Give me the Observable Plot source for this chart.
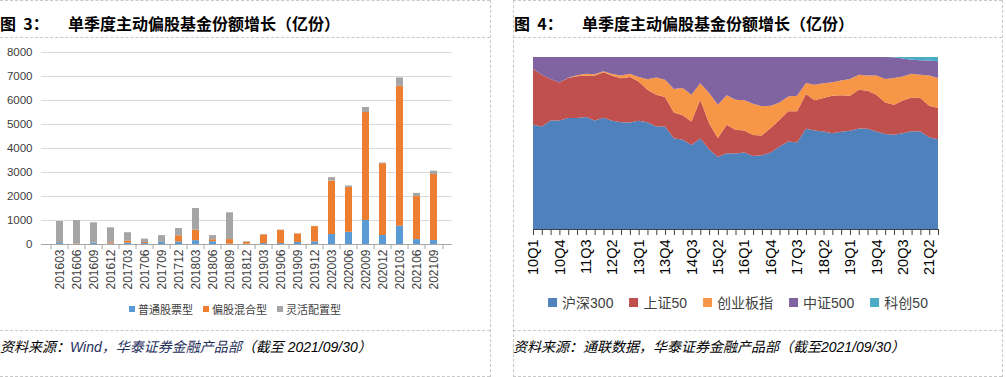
<!DOCTYPE html>
<html><head><meta charset="utf-8">
<script src="https://cdn.jsdelivr.net/npm/d3@7"></script>
<script src="https://cdn.jsdelivr.net/npm/@observablehq/plot@0.6"></script>
<style>
body{margin:0;width:1006px;height:377px;position:relative;overflow:hidden;background:#fff;font-family:"Liberation Sans","Noto Sans CJK SC",sans-serif;}
.abs{position:absolute;}
.hd{border-top:1px dashed #C8C8C8;height:0;}
.vd{border-left:1px dashed #C8C8C8;width:0;}
.title{font-family:"Noto Sans CJK SC","Liberation Sans",sans-serif;font-weight:bold;font-size:16px;line-height:20px;top:13px;white-space:nowrap;color:#000;}
.title .fig{display:inline-block;width:68px;}
.cap{font-style:italic;font-size:14px;line-height:16px;top:339px;white-space:nowrap;color:#000;}
.legend{display:flex;align-items:center;white-space:nowrap;transform:translateX(-50%);}
.legend .it{display:flex;align-items:center;}
.legend .sw{display:inline-block;}
</style>
</head><body>
<div class="abs hd" style="left:0;top:0;width:490px"></div>
<div class="abs hd" style="left:513px;top:0;width:489px"></div>
<div class="abs hd" style="left:0;top:37px;width:490px"></div>
<div class="abs hd" style="left:513px;top:37px;width:489px"></div>
<div class="abs hd" style="left:0;top:330px;width:490px"></div>
<div class="abs hd" style="left:513px;top:330px;width:489px"></div>
<div class="abs hd" style="left:0;top:376px;width:490px"></div>
<div class="abs hd" style="left:513px;top:376px;width:489px"></div>
<div class="abs vd" style="left:490px;top:0;height:377px"></div>
<div class="abs vd" style="left:513px;top:0;height:377px"></div>
<div class="abs vd" style="left:1002px;top:0;height:377px"></div>

<div class="abs title" style="left:0"><span class="fig">图&nbsp;&nbsp;3：</span>单季度主动偏股基金份额增长（亿份）</div>
<div class="abs title" style="left:514px"><span class="fig">图&nbsp;&nbsp;4：</span>单季度主动偏股基金份额增长（亿份）</div>

<div id="c1" class="abs" style="left:0;top:40px"></div>
<div id="c2" class="abs" style="left:513px;top:40px"></div>
<div id="l1" class="abs legend" style="left:235px;top:301px;font-size:11px;color:#404040"></div>
<div id="l2" class="abs legend" style="left:738px;top:292px;font-size:14px;color:#404040"></div>

<div class="abs cap" style="left:0">资料来源：<span style="color:#1F2F5C">Wind，华泰证券金融产品部</span>（截至 2021/09/30）</div>
<div class="abs cap" style="left:513px">资料来源：通联数据，华泰证券金融产品部（截至2021/09/30）</div>

<script>
// ---- Figure 3 data (亿份) ----
const periods = ["201603","201606","201609","201612","201703","201706","201709","201712","201803","201806","201809","201812","201903","201906","201909","201912","202003","202006","202009","202012","202103","202106","202109"];
const stockFund = [40,10,55,25,55,40,80,105,160,115,15,10,40,40,85,110,415,510,1000,375,760,205,165];
const mixedFund = [0,20,0,50,95,40,0,260,440,85,190,80,360,550,355,635,2230,1870,4500,2990,5830,1790,2750];
const flexFund  = [918,970,850,620,340,145,290,300,900,170,1115,25,15,10,5,10,140,60,210,30,350,135,140];
const barSeries = ["普通股票型","偏股混合型","灵活配置型"];
const barColors = ["#5B9BD5","#ED7D31","#A5A5A5"];
const yTicks1 = [0,1000,2000,3000,4000,5000,6000,7000,8000];

// ---- Figure 4 data (占比 %) ----
const quarters = ["10Q1","10Q2","10Q3","10Q4","11Q1","11Q2","11Q3","11Q4","12Q1","12Q2","12Q3","12Q4","13Q1","13Q2","13Q3","13Q4","14Q1","14Q2","14Q3","14Q4","15Q1","15Q2","15Q3","15Q4","16Q1","16Q2","16Q3","16Q4","17Q1","17Q2","17Q3","17Q4","18Q1","18Q2","18Q3","18Q4","19Q1","19Q2","19Q3","19Q4","20Q1","20Q2","20Q3","20Q4","21Q1","21Q2","21Q3"];
const labelQuarters = ["10Q1","10Q4","11Q3","12Q2","13Q1","13Q4","14Q3","15Q2","16Q1","16Q4","17Q3","18Q2","19Q1","19Q4","20Q3","21Q2"];
const hs300 = [60.6,59.6,63.1,63.1,64.5,64.5,65.1,63.1,64.7,62.9,62.1,61.9,62.9,62.1,59.6,59.6,52.8,51.9,48.9,52.6,46.4,41.8,44.1,43.9,44.5,42.5,42.9,44.5,48.0,50.9,50.3,58.3,57.3,56.7,55.7,56.5,57.1,58.5,58.3,56.7,55.2,54.8,55.7,56.9,56.7,53.4,52.2];
const sz50  = [32.4,30.1,24.1,22.1,23.3,24.3,24.1,26.0,26.4,26.2,25.6,26.4,22.9,18.8,18.4,17.1,15.0,14.2,13.6,22.5,15.1,11.1,16.5,13.8,12.8,12.2,11.5,14.2,15.5,17.5,18.1,20.2,17.5,19.4,21.8,21.2,20.4,22.5,22.1,21.4,18.4,17.5,19.0,19.6,19.4,18.3,18.1];
const cyb   = [0,0,0,0,0.2,0.6,1.0,0.8,0.6,1.0,1.6,1.9,2.5,6.2,10.1,10.1,13.6,15.9,15.5,9.7,17.5,19.4,17.1,17.5,17.5,18.1,16.9,13.0,10.1,8.7,9.1,6.4,9.1,8.7,7.8,8.7,9.7,8.7,8.9,11.1,13.6,15.5,14.0,13.8,13.6,17.5,17.5];
const zz500 = [7.0,10.3,12.8,14.8,12.0,10.6,9.8,10.1,8.3,9.9,10.7,9.8,11.7,12.9,11.9,13.2,18.6,18.0,22.0,15.2,21.0,27.7,22.3,24.8,25.2,27.2,28.7,28.3,26.4,22.9,22.5,15.1,16.1,15.2,14.7,13.6,12.8,10.3,10.7,10.8,12.8,12.0,10.5,8.1,8.4,8.7,9.7];
const kc50  = [0,0,0,0,0,0,0,0,0,0,0,0,0,0,0,0,0,0,0,0,0,0,0,0,0,0,0,0,0,0,0,0,0,0,0,0,0,0,0,0,0,0.2,0.8,1.6,1.9,2.1,2.5];
const idxSeries = ["沪深300","上证50","创业板指","中证500","科创50"];
const idxColors = ["#4F81BD","#C0504D","#F79646","#8064A2","#4BACC6"];

// ---- build tables ----
const barVals = [stockFund, mixedFund, flexFund];
const barData = barSeries.flatMap((s, k) => periods.map((p, i) => ({p, s, v: barVals[k][i]})));
const idxVals = [hs300, sz50, cyb, zz500, kc50];
const areaData = idxSeries.flatMap((s, k) => quarters.map((q, i) => ({q, s, v: idxVals[k][i]})));

const font = '"Liberation Sans","Noto Sans CJK SC",sans-serif';

// ---- Figure 3 ----
const W1 = 470, H1 = 255, mL1 = 41, mR1 = 18, mT1 = 12, mB1 = 51;
const step1 = (W1 - mL1 - mR1) / periods.length;
const p1 = Plot.plot({
  width: W1, height: H1, marginLeft: mL1, marginRight: mR1, marginTop: mT1, marginBottom: mB1,
  style: {fontFamily: font, fontSize: "11.5px", color: "#404040", background: "transparent"},
  x: {domain: periods, paddingInner: 0.58, paddingOuter: 0.29, label: null},
  y: {domain: [0, 8000], label: null},
  color: {domain: barSeries, range: barColors},
  marks: [
    Plot.gridY(yTicks1, {stroke: "#D9D9D9", strokeOpacity: 1}),
    Plot.axisY(yTicks1, {tickSize: 0, tickPadding: 9, label: null, fontSize: 11.5, tickFormat: d => String(d)}),
    Plot.barY(barData, {x: "p", y: "v", fill: "s", z: "s"}),
    Plot.ruleY([0], {stroke: "#A6A6A6"}),
    Plot.ruleX(periods, {x: d => d, y1: 0, y2: 0, dx: -step1 / 2, insetBottom: -5, stroke: "#A6A6A6"}),
    Plot.ruleX(periods.slice(-1), {x: d => d, y1: 0, y2: 0, dx: step1 / 2, insetBottom: -5, stroke: "#A6A6A6"}),
    Plot.axisX({tickSize: 0, tickRotate: -90, tickPadding: 5, fontSize: 12, label: null})
  ]
});
document.getElementById("c1").append(p1);

// ---- Figure 4 ----
const W2 = 480, H2 = 255, mL2 = 20, mR2 = 55, mT2 = 17, mB2 = 66;
const p2 = Plot.plot({
  width: W2, height: H2, marginLeft: mL2, marginRight: mR2, marginTop: mT2, marginBottom: mB2,
  style: {fontFamily: font, fontSize: "14.5px", color: "#000", background: "transparent"},
  x: {type: "point", domain: quarters, padding: 0, label: null},
  y: {domain: [0, 100], label: null, axis: null},
  color: {domain: idxSeries, range: idxColors},
  marks: [
    Plot.areaY(areaData, {x: "q", y: "v", fill: "s", z: "s"}),
    Plot.ruleY([0], {stroke: "#404040"}),
    Plot.ruleX(quarters, {x: d => d, y1: 0, y2: 0, insetBottom: -6, stroke: "#404040"}),
    Plot.axisX(labelQuarters, {tickSize: 0, tickRotate: -90, tickPadding: 10, fontSize: 14.5, label: null})
  ]
});
document.getElementById("c2").append(p2);

// ---- legends ----
function legend(el, names, colors, sw, gapSw, gapItem) {
  names.forEach((n, i) => {
    const it = document.createElement("span");
    it.className = "it";
    if (i > 0) it.style.marginLeft = gapItem + "px";
    const s = document.createElement("span");
    s.className = "sw";
    s.style.width = sw + "px"; s.style.height = sw + "px"; s.style.background = colors[i];
    s.style.marginRight = gapSw + "px";
    it.append(s, document.createTextNode(n));
    el.append(it);
  });
}
legend(document.getElementById("l1"), barSeries, barColors, 6, 3, 10);
legend(document.getElementById("l2"), idxSeries, idxColors, 9, 5, 16);
</script>
</body></html>
